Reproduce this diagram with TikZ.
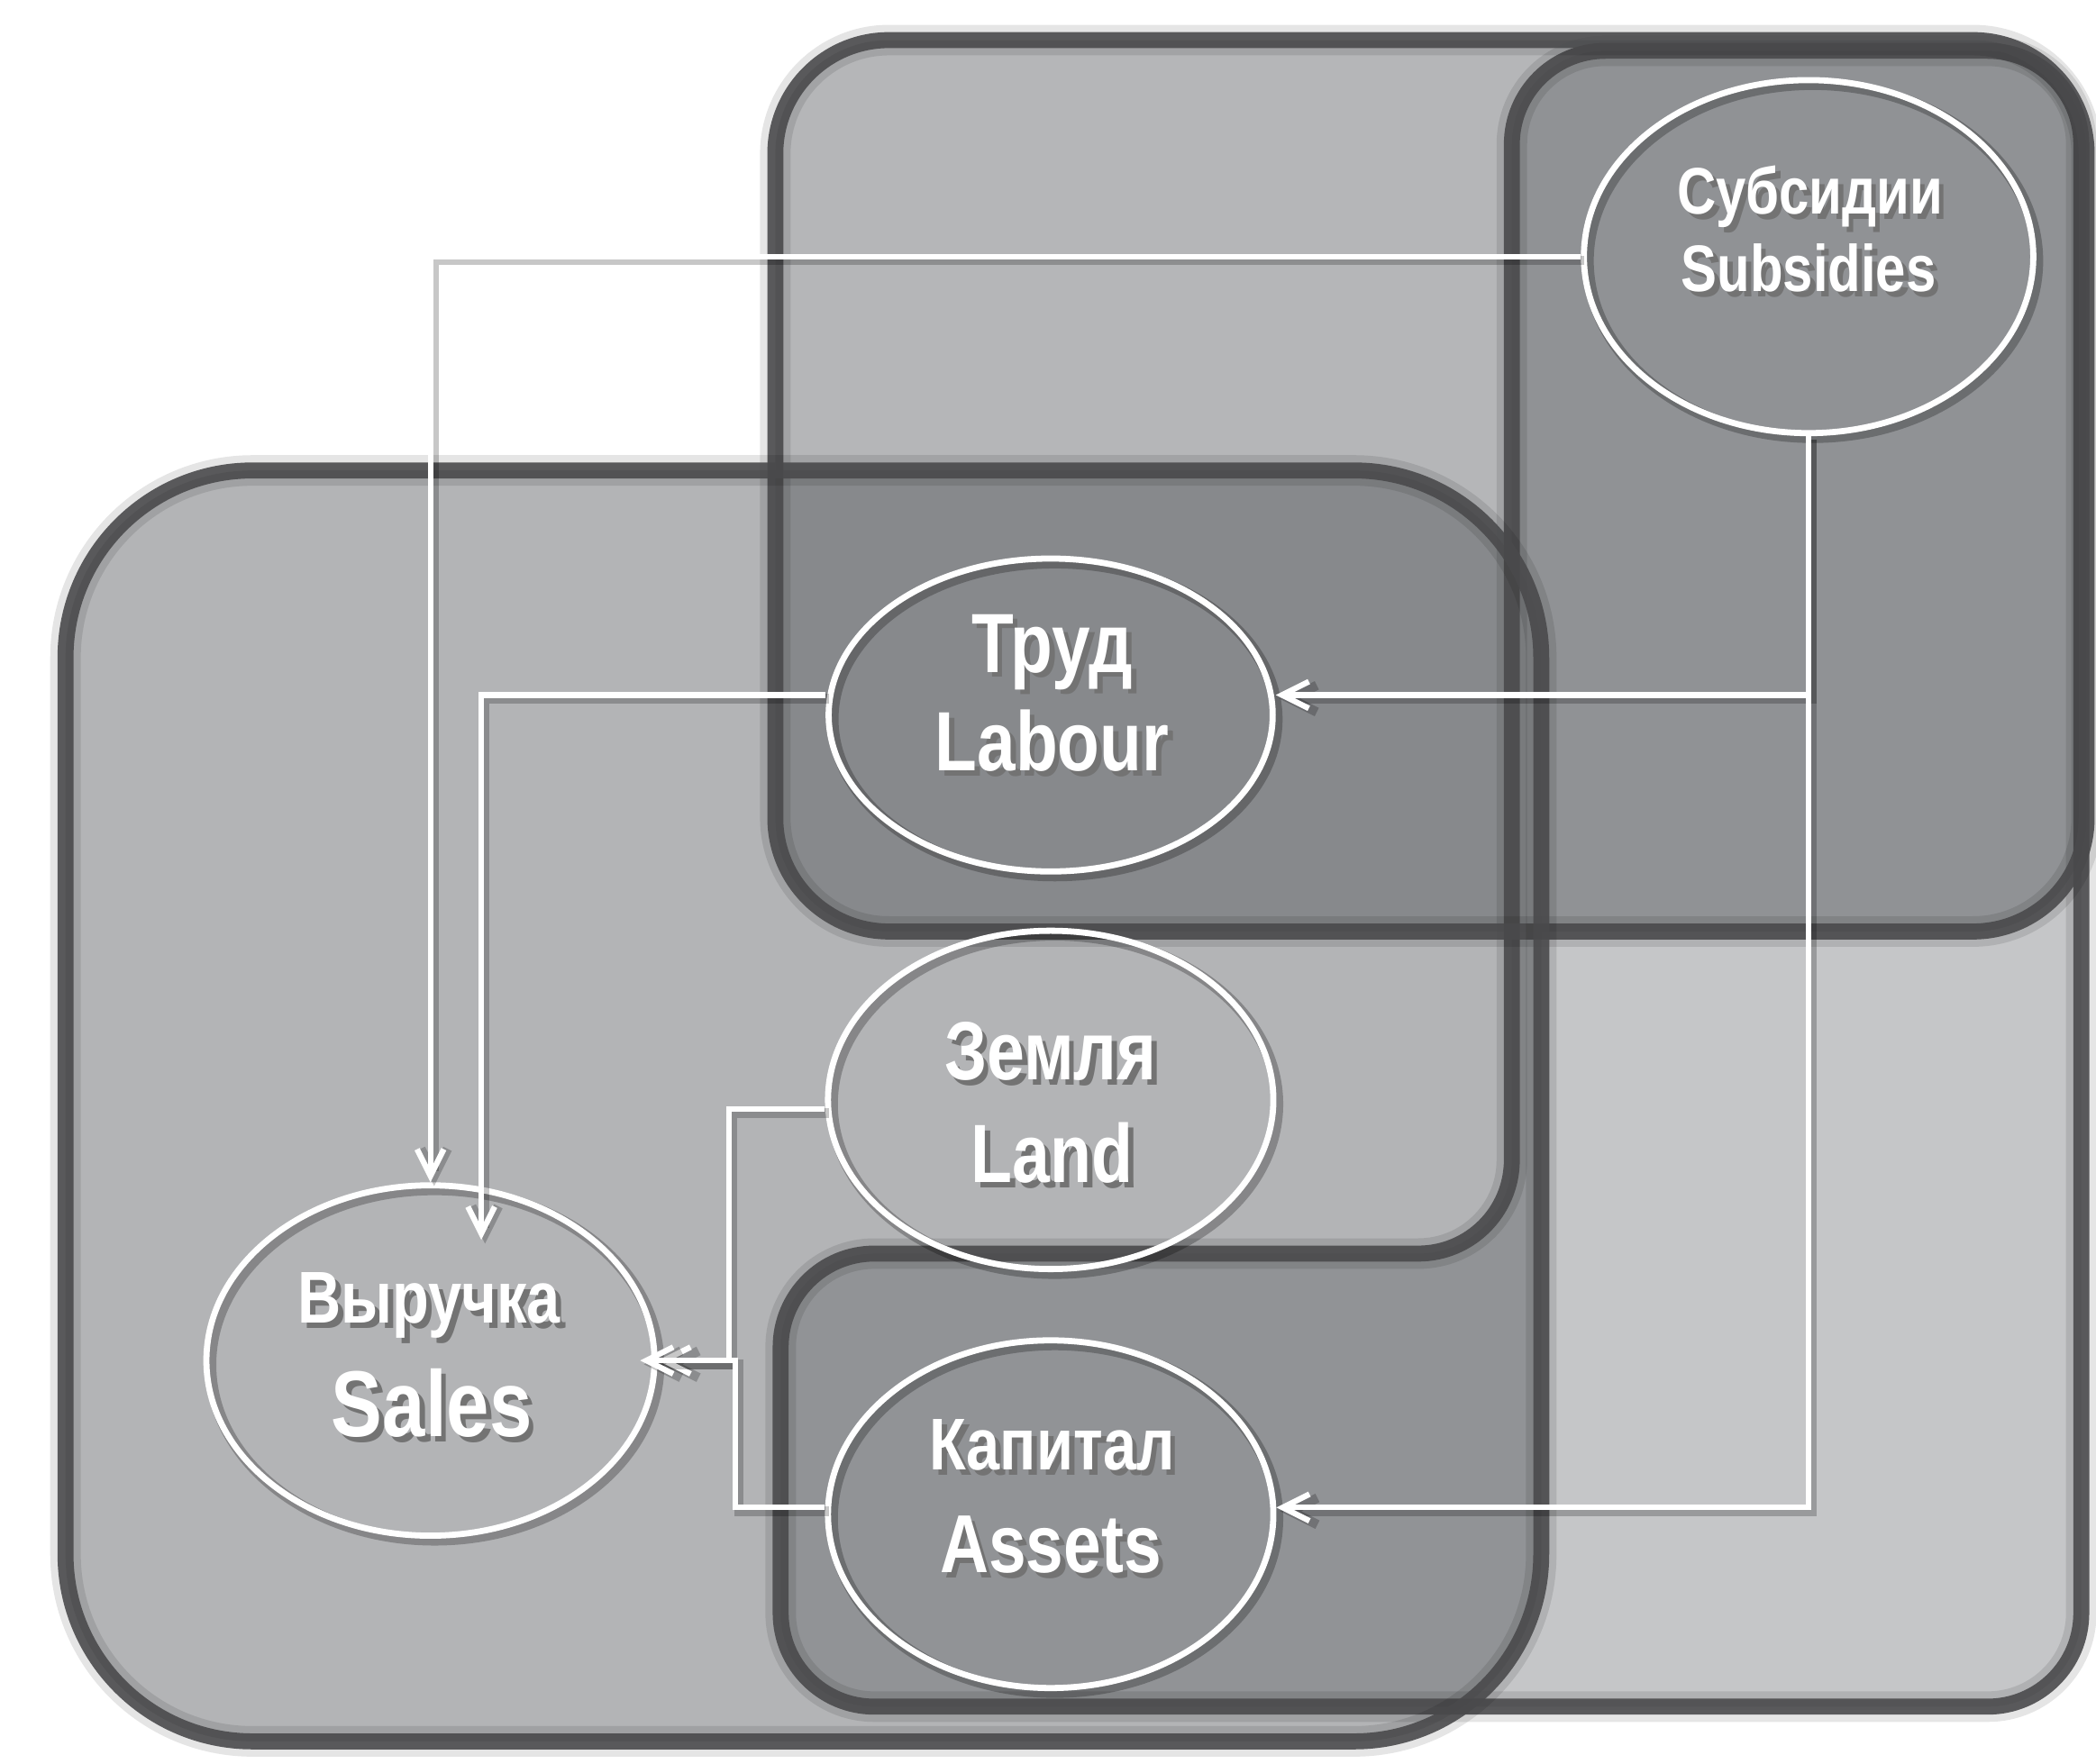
\documentclass[tikz,border=0pt]{standalone}
\usepackage{fontspec}
\setmainfont{Liberation Sans}
\newfontfamily\narrowfont[FakeStretch=0.82]{Liberation Sans}
\usetikzlibrary{arrows.meta,shapes.geometric}

\definecolor{rimgray}{HTML}{4A4A4C}
\definecolor{subsidyfill}{HTML}{C5C6C8}
\definecolor{labourfill}{HTML}{B5B6B8}
\definecolor{firmfill}{HTML}{B3B4B6}
\definecolor{columnfill}{HTML}{909295}
\definecolor{assetfill}{HTML}{919396}
\definecolor{overlapfill}{HTML}{87898C}

\newcommand{\labourbox}{(580,30) rectangle (1561,697)}
\newcommand{\firmbox}{(49,352) rectangle (1153,1303)}
\newcommand{\subsidybox}{(1131,500) -- (1131,38) -- (1557,38) -- (1557,1277) -- (584,1277) -- (584,938) -- (1131,938) -- cycle}
\newcommand{\shd}[1]{\rlap{\kern1.1pt\raisebox{-1.1pt}{\textcolor{black!55}{#1}}}#1}

\begin{document}
\begin{tikzpicture}[x=0.01cm, y=-0.01cm,
    rim/.style={draw=rimgray, draw opacity=.9, line width=3.4pt,
        preaction={draw=black, draw opacity=.1, line width=6.5pt}},
    factor/.style={ellipse, draw=white, line width=1.3pt, inner sep=0pt,
        preaction={draw=black, draw opacity=.25, line width=2.4pt,
            transform canvas={xshift=0.9pt, yshift=-0.9pt}}},
    flow/.style={draw=white, line width=1.2pt,
        -{Straight Barb[length=0.2cm, width=0.2cm]},
        preaction={draw=black, draw opacity=.22, line width=2pt,
            transform canvas={xshift=0.8pt, yshift=-0.8pt}}},
    word/.style={text=white, font=\narrowfont\bfseries, inner sep=0pt, anchor=base}]
\useasboundingbox (0,0) rectangle (1568,1319.3);

% areas
\fill[subsidyfill, rounded corners=0.7cm] \subsidybox;
\fill[labourfill, rounded corners=0.85cm] \labourbox;
\fill[firmfill, rounded corners=1.4cm] \firmbox;
\begin{scope}
    \clip[rounded corners=0.7cm] \subsidybox;
    \fill[columnfill, rounded corners=0.85cm] \labourbox;
    \fill[assetfill, rounded corners=1.4cm] \firmbox;
\end{scope}
\begin{scope}
    \clip[rounded corners=0.85cm] \labourbox;
    \fill[overlapfill, rounded corners=1.4cm] \firmbox;
\end{scope}

% outlines
\draw[rim, rounded corners=0.7cm] \subsidybox;
\draw[rim, rounded corners=0.85cm] \labourbox;
\draw[rim, rounded corners=1.4cm] \firmbox;

% factors
\node[factor, minimum width=3.36cm, minimum height=2.64cm] (subsidy) at (1353,192) {};
\node[factor, minimum width=3.32cm, minimum height=2.34cm] (labour) at (786,535) {};
\node[factor, minimum width=3.33cm, minimum height=2.53cm] (land) at (786,823) {};
\node[factor, minimum width=3.33cm, minimum height=2.60cm] (assets) at (786,1133) {};
\node[factor, minimum width=3.35cm, minimum height=2.62cm] (sales) at (322,1018) {};

\node[word] (subsidyru) at (1354,160) {\fontsize{14pt}{16pt}\selectfont\shd{Субсидии}};
\node[word] (subsidyen) at (1353,218) {\fontsize{14pt}{16pt}\selectfont\shd{Subsidies}};
\node[word] (labourru) at (787,503) {\fontsize{17.9pt}{20pt}\selectfont\shd{Труд}};
\node[word] (labouren) at (787,577) {\fontsize{17.9pt}{20pt}\selectfont\shd{Labour}};
\node[word] (landru) at (786,808) {\fontsize{17.6pt}{20pt}\selectfont\shd{Земля}};
\node[word] (landen) at (787,885) {\fontsize{17.6pt}{20pt}\selectfont\shd{Land}};
\node[word] (assetsru) at (787,1100) {\fontsize{15.6pt}{18pt}\selectfont\shd{Капитал}};
\node[word] (assetsen) at (786,1177) {\fontsize{17.5pt}{20pt}\selectfont\shd{Assets}};
\node[word] (salesru) at (321,990) {\fontsize{15.6pt}{18pt}\selectfont\shd{Выручка}};
\node[word] (salesen) at (323,1075) {\fontsize{19.9pt}{22pt}\selectfont\shd{Sales}};

% flows
\draw[flow] (subsidy.west) -| (sales.north);
\draw[flow] ([yshift=0.15cm]labour.west) -| ([xshift=0.38cm, yshift=-0.43cm]sales.north);
\draw[flow] (subsidy.south) |- ([yshift=0.15cm]labour.east);
\draw[flow] (subsidy.south) |- ([yshift=0.05cm]assets.east);
\draw[flow] ([yshift=-0.07cm]land.west) -- ++(-72,0) |- (sales.east);
\draw[flow] ([yshift=0.05cm]assets.west) -- ++(-67,0) |- ([xshift=-0.13cm]sales.east);
\end{tikzpicture}
\end{document}
